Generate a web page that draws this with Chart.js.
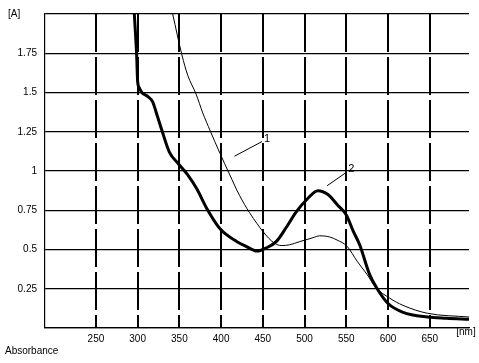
<!DOCTYPE html>
<html><head><meta charset="utf-8">
<script src="https://cdn.jsdelivr.net/npm/chart.js@4"></script>
<style>html,body{margin:0;padding:0;background:#fff}#w{width:479px;height:363px;position:relative}</style>
</head><body><div id="w"><canvas id="c"></canvas></div>
<script>
// Curve 1 (thin)
const wavelength1 = [342, 353, 360, 370, 378, 387, 398, 410, 422, 434, 443, 450, 457, 464, 472, 482, 494, 510, 518, 530, 539, 551, 563, 575, 585, 602, 618, 647, 697];
const absorbance1 = [2.0, 1.74, 1.61, 1.49, 1.37, 1.255, 1.12, 0.98, 0.845, 0.735, 0.665, 0.615, 0.572, 0.54, 0.525, 0.53, 0.55, 0.575, 0.587, 0.58, 0.56, 0.52, 0.425, 0.34, 0.26, 0.19, 0.144, 0.094, 0.07];
// Curve 2 (thick)
const wavelength2 = [296, 298.8, 300, 302, 305, 312, 318, 323, 329, 338, 349, 360, 371, 383, 399, 419, 430, 443, 454, 466, 478, 490, 503, 516, 528, 540, 550, 558, 566, 578, 587, 600, 618, 647, 670, 697];
const absorbance2 = [2.0, 1.74, 1.57, 1.53, 1.5, 1.475, 1.44, 1.36, 1.26, 1.12, 1.045, 0.975, 0.885, 0.76, 0.63, 0.55, 0.52, 0.49, 0.51, 0.55, 0.64, 0.74, 0.82, 0.875, 0.85, 0.78, 0.72, 0.62, 0.53, 0.34, 0.25, 0.156, 0.1, 0.07, 0.062, 0.056];

const xTicks = [250, 300, 350, 400, 450, 500, 550, 600, 650];
const yTicks = [0, 0.25, 0.5, 0.75, 1, 1.25, 1.5, 1.75, 2];
const yTickLabels = ['', '0.25', '0.5', '0.75', '1', '1.25', '1.5', '1.75', ''];

const curveLabels = ['1', '2'];
// leader lines: [x1,y1,x2,y2] in data units, label anchor [x,y]
const leader1 = [416, 1.094, 449, 1.1875];
const leader2 = [527, 0.906, 549, 0.9875];
const labelPos1 = [455, 1.206];
const labelPos2 = [556, 1.015];

const FONT = '"Liberation Sans", Arial, sans-serif';

const toXY = (xs, ys) => xs.map((x, i) => ({x, y: ys[i]}));

const extras = {
  id: 'extras',
  afterDraw(chart) {
    const ctx = chart.ctx, xs = chart.scales.x, ys = chart.scales.y;
    ctx.save();
    ctx.fillStyle = '#000';
    ctx.strokeStyle = '#000';
    ctx.font = '10px ' + FONT;
    ctx.textBaseline = 'middle';
    ctx.textAlign = 'left';
    ctx.fillText('[A]', 8, 14);
    ctx.fillText('Absorbance', 5, 351);
    ctx.textAlign = 'center';
    ctx.fillText('[nm]', 466, 332);
    ctx.lineWidth = 1;
    [leader1, leader2].forEach(l => {
      ctx.beginPath();
      ctx.moveTo(xs.getPixelForValue(l[0]), ys.getPixelForValue(l[1]));
      ctx.lineTo(xs.getPixelForValue(l[2]), ys.getPixelForValue(l[3]));
      ctx.stroke();
    });
    ctx.font = '11px ' + FONT;
    [labelPos1, labelPos2].forEach((p, i) => {
      ctx.fillText(curveLabels[i], xs.getPixelForValue(p[0]), ys.getPixelForValue(p[1]));
    });
    ctx.restore();
  }
};

new Chart(document.getElementById('c'), {
  type: 'line',
  data: {
    datasets: [
      {label: '1', data: toXY(wavelength1, absorbance1), borderColor: '#000', borderWidth: 1, pointRadius: 0, cubicInterpolationMode: 'monotone', fill: false},
      {label: '2', data: toXY(wavelength2, absorbance2), borderColor: '#000', borderWidth: 3, pointRadius: 0, cubicInterpolationMode: 'monotone', fill: false}
    ]
  },
  options: {
    responsive: true,
    maintainAspectRatio: false,
    animation: false,
    events: [],
    layout: {padding: {top: 8, right: 10, left: 0, bottom: 0}},
    plugins: {legend: {display: false}, tooltip: {enabled: false}},
    scales: {
      x: {
        type: 'linear', min: 189, max: 697,
        afterBuildTicks: s => { s.ticks = xTicks.map(v => ({value: v})); },
        afterFit: s => { s.height = 35; },
        ticks: {color: '#000', font: {family: FONT, size: 10}, padding: 5, maxRotation: 0, autoSkip: false, callback: v => String(v)},
        grid: {color: '#000', lineWidth: 2, drawTicks: false},
        border: {display: true, color: '#000', width: 1.2, dash: [38, 5]}
      },
      y: {
        type: 'linear', min: 0, max: 2,
        afterBuildTicks: s => { s.ticks = yTicks.map(v => ({value: v})); },
        afterFit: s => { s.width = 45; },
        ticks: {color: '#000', font: {family: FONT, size: 10}, padding: 8, autoSkip: false,
          callback: v => { const i = yTicks.indexOf(v); return i >= 0 ? yTickLabels[i] : ''; }},
        grid: {color: '#000', lineWidth: 1.2, drawTicks: false},
        border: {display: true, color: '#000', width: 1.2}
      }
    }
  },
  plugins: [extras]
});
</script>
</body></html>
